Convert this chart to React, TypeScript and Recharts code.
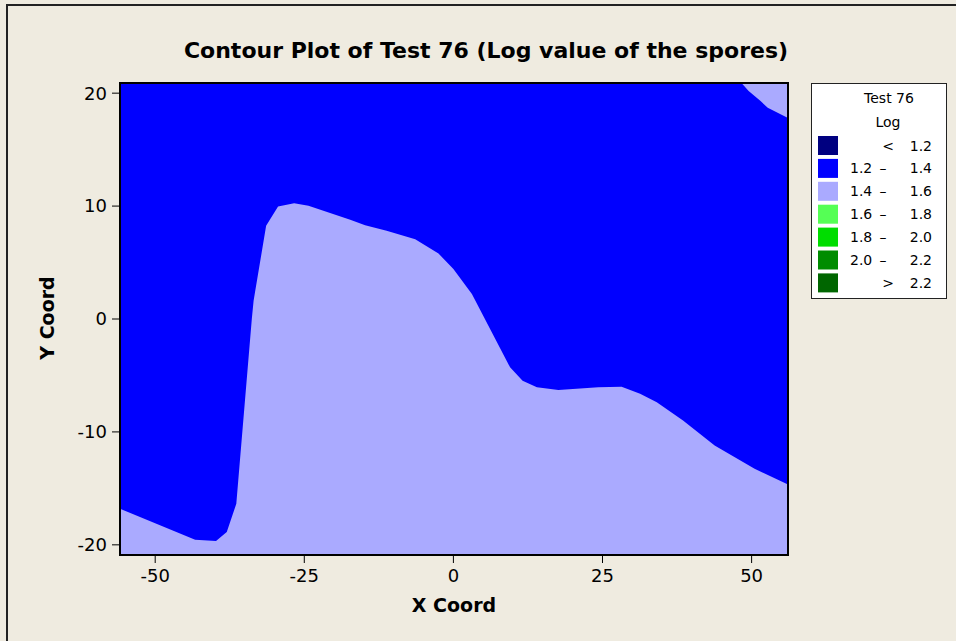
import {
  ComposedChart,
  Area,
  XAxis,
  YAxis,
  CartesianGrid,
  ReferenceArea,
} from "recharts";

// axis ranges and ticks
const X_MIN = -55.9;
const X_MAX = 56.1;
const Y_MIN = -20.9;
const Y_MAX = 20.9;
const xTicks = [-50, -25, 0, 25, 50];
const yTicks = [-20, -10, 0, 10, 20];

// boundary between the 1.2-1.4 and 1.4-1.6 bands (lower light region)
const lowerX = [
  -55.9, -43.3, -39.8, -38.0, -36.4, -33.8, -33.5, -31.4, -29.4, -26.7, -24.3,
  -17.3, -14.8, -11.2, -6.4, -2.5, 0, 3.1, 9.5, 11.6, 14.0, 17.6, 24.3, 28.2,
  31.3, 34.1, 38.5, 43.8, 50.5, 56.1,
];
const lowerY = [
  -16.8, -19.56, -19.66, -18.87, -16.36, 0, 1.62, 8.25, 9.96, 10.26, 10.02,
  8.78, 8.31, 7.81, 7.07, 5.8, 4.42, 2.21, -4.28, -5.46, -6.05, -6.28, -6.05,
  -5.99, -6.63, -7.37, -8.99, -11.2, -13.26, -14.65,
];

// small light patch in the top right corner
const cornerX = [48.3, 49.5, 51.5, 52.7, 56.1];
const cornerY = [20.9, 20.2, 19.3, 18.7, 17.8];

// legend
const legendFrom = ["", "1.2", "1.4", "1.6", "1.8", "2.0", ""];
const legendSep = ["<", "–", "–", "–", "–", "–", ">"];
const legendTo = ["1.2", "1.4", "1.6", "1.8", "2.0", "2.2", "2.2"];
const legendColors = [
  "#000080",
  "#0000FF",
  "#AAAAFF",
  "#55FF55",
  "#00DD00",
  "#008C00",
  "#006600",
];

const lowerData = lowerX.map((x, i) => ({ x, y: lowerY[i] }));
const cornerData = cornerX.map((x, i) => ({ x, y: cornerY[i] }));

const FONT = "'DejaVu Sans', Verdana, sans-serif";
const BG = "#EFEBE0";

function LegendBox() {
  return (
    <div
      style={{
        position: "absolute",
        left: 811,
        top: 83,
        width: 134,
        height: 214,
        border: "1px solid #222",
        background: "#fff",
      }}
    >
      <svg width={134} height={214} style={{ fontFamily: FONT, fontSize: 14 }}>
        <text x={77} y={19} textAnchor="middle" fill="#000">
          Test 76
        </text>
        <text x={76} y={43} textAnchor="middle" fill="#000">
          Log
        </text>
        {legendColors.map((c, i) => {
          const top = 52 + i * 22.9;
          const mid = top + 9.5;
          return (
            <g key={i}>
              <rect x={6} y={top} width={20} height={19} fill={c} />
              <text x={38} y={mid + 5} fill="#000">
                {legendFrom[i]}
              </text>
              <text x={i === 0 || i === 6 ? 76 : 71} y={mid + 5} textAnchor="middle" fill="#000">
                {legendSep[i]}
              </text>
              <text x={120} y={mid + 5} textAnchor="end" fill="#000">
                {legendTo[i]}
              </text>
            </g>
          );
        })}
      </svg>
    </div>
  );
}

export default function App() {
  return (
    <div
      style={{
        position: "absolute",
        left: 0,
        top: 0,
        width: 956,
        height: 641,
        overflow: "hidden",
        background: BG,
        fontFamily: FONT,
      }}
    >
      {/* frame, only its top and left edges show */}
      <div
        style={{
          position: "absolute",
          left: 6,
          top: 4,
          width: 2000,
          height: 2000,
          borderLeft: "2px solid #222",
          borderTop: "2px solid #222",
        }}
      />
      <div
        style={{
          position: "absolute",
          left: 0,
          width: 972,
          top: 40,
          textAlign: "center",
          fontSize: 22,
          lineHeight: "22px",
          fontWeight: "bold",
          color: "#000",
        }}
      >
        Contour Plot of Test 76 (Log value of the spores)
      </div>
      <div
        style={{
          position: "absolute",
          left: 354,
          width: 200,
          top: 596,
          textAlign: "center",
          fontSize: 19,
          lineHeight: "19px",
          fontWeight: "bold",
          color: "#000",
        }}
      >
        X Coord
      </div>
      <div
        style={{
          position: "absolute",
          left: 47,
          top: 318,
          transform: "translate(-50%, -50%) rotate(-90deg)",
          fontSize: 19,
          lineHeight: "19px",
          fontWeight: "bold",
          whiteSpace: "nowrap",
          color: "#000",
        }}
      >
        Y Coord
      </div>

      <ComposedChart
        width={956}
        height={641}
        margin={{ top: 83, right: 168, bottom: 0, left: 0 }}
        style={{ position: "absolute", left: 0, top: 0 }}
      >
        <CartesianGrid
          horizontal={false}
          vertical={false}
          fill="#0000FF"
          fillOpacity={1}
        />
        <XAxis
          type="number"
          dataKey="x"
          domain={[X_MIN, X_MAX]}
          ticks={xTicks}
          allowDataOverflow
          height={86}
          tickSize={8}
          tickMargin={6}
          stroke="#000"
          tick={{ fill: "#000", fontSize: 18, fontFamily: FONT }}
        />
        <YAxis
          type="number"
          dataKey="y"
          domain={[Y_MIN, Y_MAX]}
          ticks={yTicks}
          allowDataOverflow
          width={120}
          tickSize={8}
          tickMargin={5}
          stroke="#000"
          tick={{ fill: "#000", fontSize: 18, fontFamily: FONT }}
        />
        <Area
          data={lowerData}
          dataKey="y"
          type="linear"
          baseValue={Y_MIN}
          fill="#AAAAFF"
          fillOpacity={1}
          stroke="none"
          isAnimationActive={false}
          dot={false}
          activeDot={false}
        />
        <Area
          data={cornerData}
          dataKey="y"
          type="linear"
          baseValue={Y_MAX}
          fill="#AAAAFF"
          fillOpacity={1}
          stroke="none"
          isAnimationActive={false}
          dot={false}
          activeDot={false}
        />
        <ReferenceArea
          x1={X_MIN}
          x2={X_MAX}
          y1={Y_MIN}
          y2={Y_MAX}
          fill="none"
          stroke="#000"
          strokeWidth={2}
          ifOverflow="visible"
        />
      </ComposedChart>

      <LegendBox />
    </div>
  );
}
